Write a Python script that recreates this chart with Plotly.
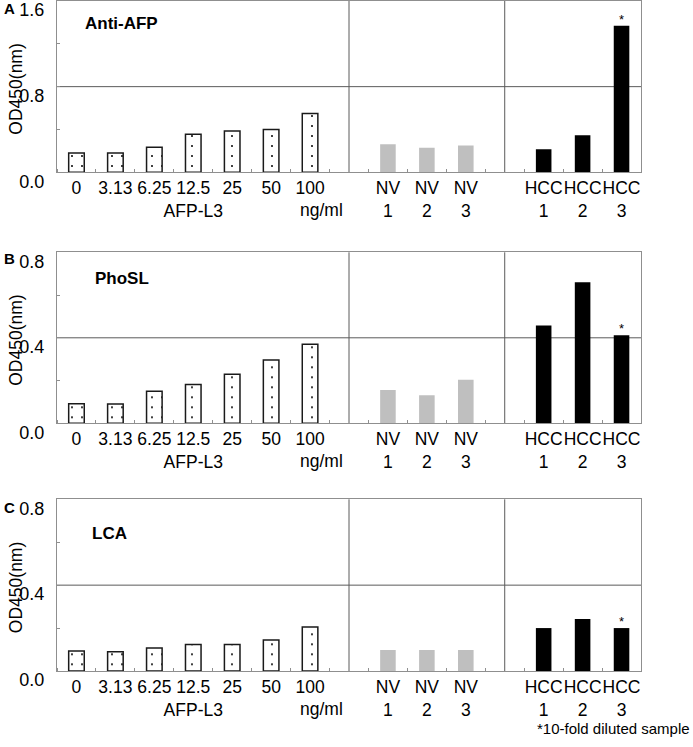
import plotly.graph_objects as go

# ---------------- data ----------------
conc_labels = ["0", "3.13", "6.25", "12.5", "25", "50", "100"]
nv_labels = ["NV<br>1", "NV<br>2", "NV<br>3"]
hcc_labels = ["HCC<br>1", "HCC<br>2", "HCC<br>3"]
std_group_label = "AFP-L3"
std_unit_label = "ng/ml"

antiafp_std = [0.18, 0.18, 0.235, 0.355, 0.385, 0.40, 0.55]
antiafp_nv = [0.263, 0.229, 0.25]
antiafp_hcc = [0.216, 0.346, 1.368]

phosl_std = [0.092, 0.09, 0.15, 0.182, 0.229, 0.296, 0.37]
phosl_nv = [0.156, 0.131, 0.204]
phosl_hcc = [0.457, 0.66, 0.412]

lca_std = [0.093, 0.09, 0.107, 0.124, 0.124, 0.144, 0.205]
lca_nv = [0.098, 0.098, 0.098]
lca_hcc = [0.2, 0.242, 0.2]

panel_titles = ["Anti-AFP", "PhoSL", "LCA"]
panel_letters = ["A", "B", "C"]
y_max = [1.6, 0.8, 0.8]
y_tick_labels = [["0.0", "0.8", "1.6"], ["0.0", "0.4", "0.8"], ["0.0", "0.4", "0.8"]]
diluted_marker = "*"
footnote = "*10-fold diluted sample"
y_title = "OD450(nm)"

panels = [
    (antiafp_std, antiafp_nv, antiafp_hcc),
    (phosl_std, phosl_nv, phosl_hcc),
    (lca_std, lca_nv, lca_hcc),
]

# ---------------- layout helpers ----------------
W, H = 693, 747
FONT = "Liberation Sans, Arial, sans-serif"
panel_px = [(1.0, 172.3), (252.3, 423.3), (499.3, 671.0)]
x_left_px, x_right_px = 57.0, 641.0
title_pos = [(83, 23), (93, 278), (90, 533)]
letter_pos = [(2, 8), (2, 258), (2, 507)]

n1, n2, n3 = len(conc_labels), len(nv_labels), len(hcc_labels)
x_std = [i + 0.5 for i in range(n1)]
x_nv = [n1 + 1 + i + 0.5 for i in range(n2)]
x_hcc = [n1 + 1 + n2 + 1 + i + 0.5 for i in range(n3)]
x_total = n1 + 1 + n2 + 1 + n3
dividers = [n1 + 0.5, n1 + 1 + n2 + 0.5]

tickvals = x_std + x_nv + x_hcc
ticktext = list(conc_labels)
mid = n1 // 2
ticktext[mid] = conc_labels[mid] + "<br>" + std_group_label
ticktext = ticktext + nv_labels + hcc_labels

def py(p):
    return 1 - p / H

def px(p):
    return p / W

fig = go.Figure()
shapes = []
annotations = []
BORDER = "#8f8f8f"
GRID = "#5a5a5a"
TICK_SIZE = 17.5

for k, (std, nv, hcc) in enumerate(panels):
    xa = "x" if k == 0 else f"x{k+1}"
    ya = "y" if k == 0 else f"y{k+1}"
    xname = "xaxis" if k == 0 else f"xaxis{k+1}"
    yname = "yaxis" if k == 0 else f"yaxis{k+1}"
    top, bot = panel_px[k]

    fig.add_trace(go.Bar(
        x=x_std, y=std, xaxis=xa, yaxis=ya, width=0.4,
        marker=dict(color="white", line=dict(color="#1a1a1a", width=1.5),
                    pattern=dict(shape=".", fgcolor="black", bgcolor="white",
                                 size=10, solidity=0.03)),
        showlegend=False, hoverinfo="skip"))
    fig.add_trace(go.Bar(
        x=x_nv, y=nv, xaxis=xa, yaxis=ya, width=0.4,
        marker=dict(color="#bfbfbf", line=dict(width=0)),
        showlegend=False, hoverinfo="skip"))
    fig.add_trace(go.Bar(
        x=x_hcc, y=hcc, xaxis=xa, yaxis=ya, width=0.4,
        marker=dict(color="black", line=dict(width=0)),
        showlegend=False, hoverinfo="skip"))

    ym = y_max[k]
    fig.layout[xname] = dict(
        domain=[px(x_left_px), px(x_right_px)], range=[0, x_total],
        anchor=ya, tickmode="array", tickvals=tickvals, ticktext=ticktext,
        ticks="", showgrid=False, zeroline=False, automargin=False, tickangle=0,
        showline=True, linecolor=BORDER, linewidth=1, mirror=True,
        tickfont=dict(family=FONT, size=TICK_SIZE, color="black"),
        ticklabelstandoff=0,
        minor=dict(tickmode="array", tickvals=list(range(0, x_total + 1)),
                   ticks="inside", ticklen=3, tickcolor=BORDER, showgrid=False),
    )
    fig.layout[yname] = dict(
        domain=[py(bot), py(top)], range=[0, ym], anchor=xa,
        tickmode="array", tickvals=[0, ym / 2, ym], ticktext=y_tick_labels[k],
        ticks="inside", ticklen=3, tickcolor=BORDER, automargin=False,
        showgrid=False, zeroline=False,
        showline=True, linecolor=BORDER, linewidth=1, mirror=True,
        tickfont=dict(family=FONT, size=18, color="black"),
        ticklabelshift=9, ticklabelstandoff=8,
        minor=dict(tickmode="array", tickvals=[ym / 4, 3 * ym / 4],
                   ticks="inside", ticklen=3, tickcolor=BORDER, showgrid=False),
    )

    shapes.append(dict(type="line", xref=f"{xa} domain", yref=ya, x0=0, x1=1,
                       y0=ym / 2, y1=ym / 2, line=dict(color=GRID, width=1), layer="below"))
    for d in dividers:
        shapes.append(dict(type="line", xref=xa, yref=f"{ya} domain", x0=d, x1=d,
                           y0=0, y1=1, line=dict(color=GRID, width=1), layer="below"))

    annotations.append(dict(text=std_unit_label, xref=xa, yref=f"{ya} domain",
                            x=x_std[-1], y=0, xshift=11, yshift=-26, yanchor="top",
                            showarrow=False, font=dict(family=FONT, size=TICK_SIZE, color="black")))
    annotations.append(dict(text=diluted_marker, xref=xa, yref=ya, x=x_hcc[-1], y=hcc[-1],
                            yanchor="bottom", yshift=-3, showarrow=False,
                            font=dict(family=FONT, size=13, color="black")))
    tx, ty = title_pos[k]
    annotations.append(dict(text=f"<b>{panel_titles[k]}</b>", xref="paper", yref="paper",
                            x=px(tx), y=py(ty), xanchor="left", yanchor="middle",
                            showarrow=False, font=dict(family=FONT, size=17, color="black")))
    lx, ly = letter_pos[k]
    annotations.append(dict(text=f"<b>{panel_letters[k]}</b>", xref="paper", yref="paper",
                            x=px(lx), y=py(ly), xanchor="left", yanchor="middle",
                            showarrow=False, font=dict(family=FONT, size=15, color="black")))
    annotations.append(dict(text=y_title, xref="paper", yref="paper",
                            x=px(16), y=py((top + bot) / 2 + 3), textangle=-90,
                            xanchor="center", yanchor="middle", showarrow=False,
                            font=dict(family=FONT, size=17.5, color="black")))

annotations.append(dict(text=footnote, xref="paper", yref="paper", x=px(692), y=py(728),
                        xanchor="right", yanchor="middle", showarrow=False,
                        font=dict(family=FONT, size=15, color="black")))

fig.update_layout(
    template="none",
    width=W, height=H, margin=dict(l=0, r=0, t=0, b=0, pad=0),
    paper_bgcolor="white", plot_bgcolor="white",
    barmode="overlay", shapes=shapes, annotations=annotations,
    font=dict(family=FONT, color="black"), showlegend=False,
)

fig.write_html("out.html", config={"displayModeBar": False},
               post_script="document.body.style.margin='0px';document.body.style.overflow='hidden';")
